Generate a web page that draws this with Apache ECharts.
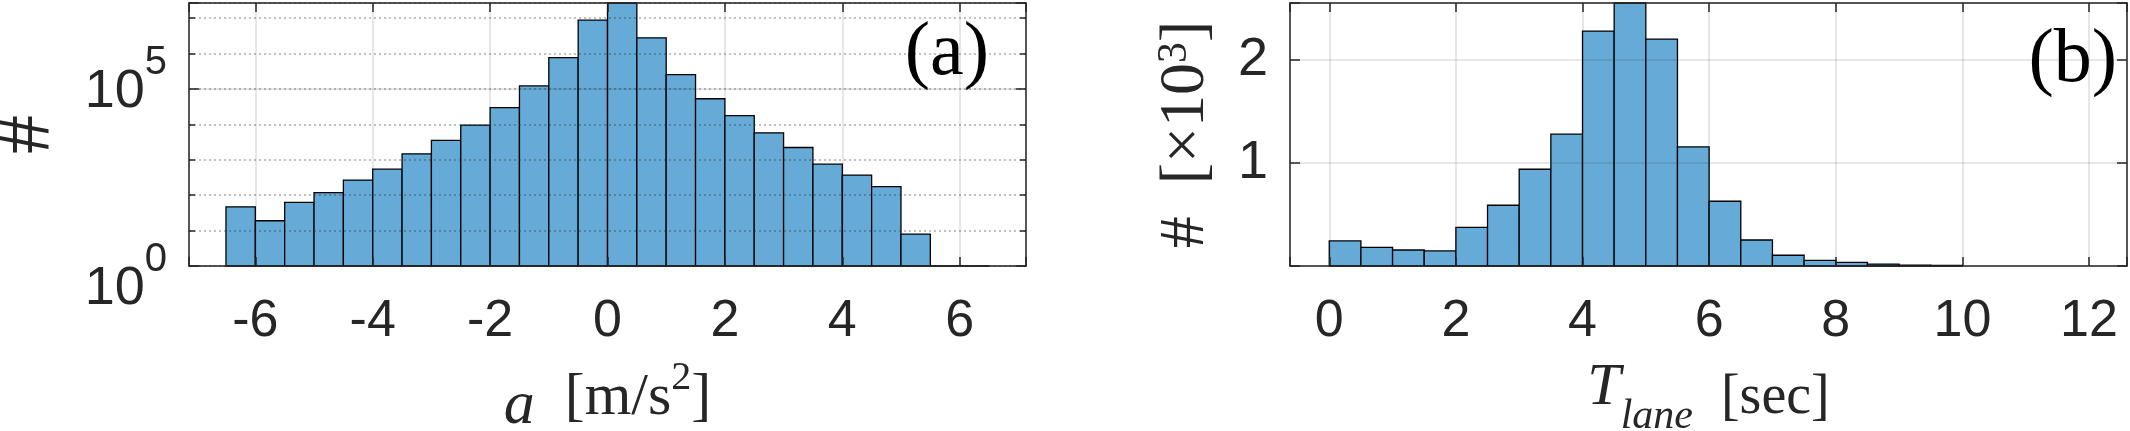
<!DOCTYPE html>
<html>
<head>
<meta charset="utf-8">
<script src="https://cdn.jsdelivr.net/npm/echarts@6/dist/echarts.min.js"></script>
<style>
html, body { margin: 0; padding: 0; background: #fff; }
#grafico { width: 2130px; height: 431px; }
</style>
</head>
<body>
<div id="grafico"></div>
<script>
// (a) acceleration histogram, log counts
var accelEdges = [-6.5, -6, -5.5, -5, -4.5, -4, -3.5, -3, -2.5, -2, -1.5, -1, -0.5, 0,
                  0.5, 1, 1.5, 2, 2.5, 3, 3.5, 4, 4.5, 5, 5.5, 6, 6.5];
var accelCounts = [47, 19, 63, 119, 267, 545, 1480, 3530, 9600, 29600, 122000, 775000,
                   8800000, 26900000, 2800000, 255000, 53000, 17600, 5800, 2230, 755, 370,
                   175, 8, 1, 1];
var accelXLimits = [-7.13, 7.13];
var accelYLimits = [1, 26900000];

// (b) lane time histogram, counts
var laneEdges = [0, 0.5, 1, 1.5, 2, 2.5, 3, 3.5, 4, 4.5, 5, 5.5, 6, 6.5, 7, 7.5, 8,
                 8.5, 9, 9.5, 10];
var laneCounts = [243, 181, 155, 146, 375, 589, 938, 1278, 2278, 2550, 2200, 1155,
                  628, 252, 104, 55, 36, 19, 8, 5];
var laneXLimits = [-0.62, 12.6];
var laneYLimits = [0, 2550];
var laneYLabels = { 1000: '1', 2000: '2' };

var ink = '#262626';
var gridSolid = 'rgba(38,38,38,0.15)';
var gridDot = 'rgba(38,38,38,0.38)';
var barFill = '#66aad7';
var sans = 'Liberation Sans';
var serif = 'Liberation Serif';

var chartDom = document.getElementById('grafico');
var myChart = echarts.init(chartDom);

function toBins(edges, counts) {
    return counts.map(function (c, i) { return [edges[i], edges[i + 1], c]; });
}

function histRect(base) {
    return function (params, api) {
        var p0 = api.coord([api.value(0), api.value(2)]);
        var p1 = api.coord([api.value(1), base]);
        return {
            type: 'rect',
            shape: { x: p0[0], y: p0[1], width: p1[0] - p0[0], height: p1[1] - p0[1] },
            style: { fill: barFill, stroke: '#000', lineWidth: 1.3 }
        };
    };
}

function evenLabel(v) {
    var r = Math.round(v);
    if (Math.abs(v - r) > 1e-9 || r % 2 !== 0) return '';
    return String(r);
}

// power-of-ten label, shown only for exponent exp
function powLabel(exp) {
    return function (v) {
        var l = Math.log(v) / Math.LN10;
        return Math.abs(l - exp) < 1e-6 ? '{b|10}{s|' + exp + '}' : '';
    };
}

var powRich = {
    b: { fontFamily: sans, fontSize: 54, color: ink, lineHeight: 76, verticalAlign: 'bottom' },
    s: { fontFamily: sans, fontSize: 40, color: ink, lineHeight: 40, verticalAlign: 'top' }
};

var line = { show: true, onZero: false, lineStyle: { color: ink, width: 1.5 } };
var noLine = { show: false, onZero: false };
var tickIn = function (len) {
    return { show: true, inside: true, length: len, lineStyle: { color: ink, width: 1.5 } };
};

var xLabel = {
    show: true, margin: 30, formatter: evenLabel,
    fontFamily: sans, fontSize: 52, color: ink
};

function logAxis(pos, interval, extra) {
    var a = {
        gridIndex: 0, type: 'log', logBase: 10, position: pos, z: 5,
        min: accelYLimits[0], max: accelYLimits[1], interval: interval,
        axisLine: noLine, axisTick: { show: false }, axisLabel: { show: false },
        splitLine: { show: false }
    };
    for (var k in extra) a[k] = extra[k];
    return a;
}

var option = {
    animation: false,
    title: [
        { text: '(a)', right: 1141, top: 16, padding: 0,
          textStyle: { fontFamily: serif, fontSize: 76, fontWeight: 'normal', color: '#000' } },
        { text: '(b)', right: 13, top: 23, padding: 0,
          textStyle: { fontFamily: serif, fontSize: 76, fontWeight: 'normal', color: '#000' } }
    ],
    grid: [
        { left: 189, top: 3, width: 837, height: 263, outerBoundsMode: 'none' },
        { left: 1290, top: 3, width: 837, height: 263, outerBoundsMode: 'none' }
    ],
    xAxis: [
        {
            gridIndex: 0, type: 'value', position: 'bottom', z: 5,
            min: accelXLimits[0], max: accelXLimits[1], minInterval: 2, maxInterval: 2,
            axisLine: line, axisTick: tickIn(9), axisLabel: xLabel,
            splitLine: { show: true, lineStyle: { color: gridSolid, width: 1.5 } },
            name: '{i|a}  [m/s{s|2}]', nameLocation: 'middle', nameGap: 92,
            nameTextStyle: {
                fontFamily: serif, fontSize: 60, color: ink,
                rich: {
                    i: { fontFamily: serif, fontSize: 62, fontStyle: 'italic', color: ink, lineHeight: 80, verticalAlign: 'bottom' },
                    s: { fontFamily: serif, fontSize: 40, color: ink, lineHeight: 40, verticalAlign: 'top' }
                }
            }
        },
        {
            gridIndex: 0, type: 'value', position: 'top', z: 5,
            min: accelXLimits[0], max: accelXLimits[1], minInterval: 2, maxInterval: 2,
            axisLine: line, axisTick: tickIn(9), axisLabel: { show: false },
            splitLine: { show: false }
        },
        {
            gridIndex: 1, type: 'value', position: 'bottom', z: 5,
            min: laneXLimits[0], max: laneXLimits[1], minInterval: 2, maxInterval: 2,
            axisLine: line, axisTick: tickIn(9), axisLabel: xLabel,
            splitLine: { show: true, lineStyle: { color: gridSolid, width: 1.5 } },
            name: '{i|T}{u|lane}  [sec]', nameLocation: 'middle', nameGap: 92,
            nameTextStyle: {
                fontFamily: serif, fontSize: 56, color: ink,
                rich: {
                    i: { fontFamily: serif, fontSize: 60, fontStyle: 'italic', color: ink, lineHeight: 60, verticalAlign: 'top' },
                    u: { fontFamily: serif, fontSize: 42, fontStyle: 'italic', color: ink, lineHeight: 80, verticalAlign: 'bottom' }
                }
            }
        },
        {
            gridIndex: 1, type: 'value', position: 'top', z: 5,
            min: laneXLimits[0], max: laneXLimits[1], minInterval: 2, maxInterval: 2,
            axisLine: line, axisTick: tickIn(9), axisLabel: { show: false },
            splitLine: { show: false }
        }
    ],
    yAxis: [
        // 0: every decade, dotted grid and short ticks
        logAxis('left', 1, {
            axisLine: line, axisTick: tickIn(6),
            splitLine: { show: true, lineStyle: { color: gridDot, width: 1.5, type: [2, 3] } }
        }),
        // 1: major decades, solid grid, long ticks, 10^5 label, axis name
        logAxis('left', 5, {
            axisTick: tickIn(10),
            axisLabel: { show: true, margin: 22, formatter: powLabel(5), padding: [0, 0, 16, 0], rich: powRich },
            splitLine: { show: true, lineStyle: { color: gridSolid, width: 1.5 } },
            name: '#', nameLocation: 'middle', nameGap: 122,
            nameTextStyle: { fontFamily: serif, fontSize: 78, color: ink }
        }),
        // 2: 10^0 label
        logAxis('left', 5, {
            axisLabel: { show: true, margin: 22, formatter: powLabel(0), padding: [24, 0, 0, 0], rich: powRich }
        }),
        // 3, 4: right side ticks
        logAxis('right', 1, { axisLine: line, axisTick: tickIn(6) }),
        logAxis('right', 5, { axisTick: tickIn(10) }),
        {
            gridIndex: 1, type: 'value', position: 'left', z: 5,
            min: laneYLimits[0], max: laneYLimits[1], interval: 1000,
            axisLine: line, axisTick: tickIn(10),
            axisLabel: {
                show: true, margin: 22, fontFamily: sans, fontSize: 54, color: ink,
                formatter: function (v) { return laneYLabels[v] || ''; }
            },
            splitLine: { show: true, lineStyle: { color: gridSolid, width: 1.5 } },
            name: '#  [\u00d710{s|3}]', nameLocation: 'middle', nameGap: 72,
            nameTextStyle: {
                fontFamily: serif, fontSize: 64, color: ink,
                rich: {
                    s: { fontFamily: serif, fontSize: 42, color: ink, lineHeight: 42, verticalAlign: 'top' }
                }
            }
        },
        {
            gridIndex: 1, type: 'value', position: 'right', z: 5,
            min: laneYLimits[0], max: laneYLimits[1], interval: 1000,
            axisLine: line, axisTick: tickIn(10), axisLabel: { show: false },
            splitLine: { show: false }
        }
    ],
    series: [
        {
            type: 'custom', xAxisIndex: 0, yAxisIndex: 0, z: 2,
            renderItem: histRect(accelYLimits[0]),
            encode: { x: [0, 1], y: 2 },
            data: toBins(accelEdges, accelCounts)
        },
        {
            type: 'custom', xAxisIndex: 2, yAxisIndex: 5, z: 2,
            renderItem: histRect(laneYLimits[0]),
            encode: { x: [0, 1], y: 2 },
            data: toBins(laneEdges, laneCounts)
        }
    ]
};

myChart.setOption(option);
</script>
</body>
</html>
